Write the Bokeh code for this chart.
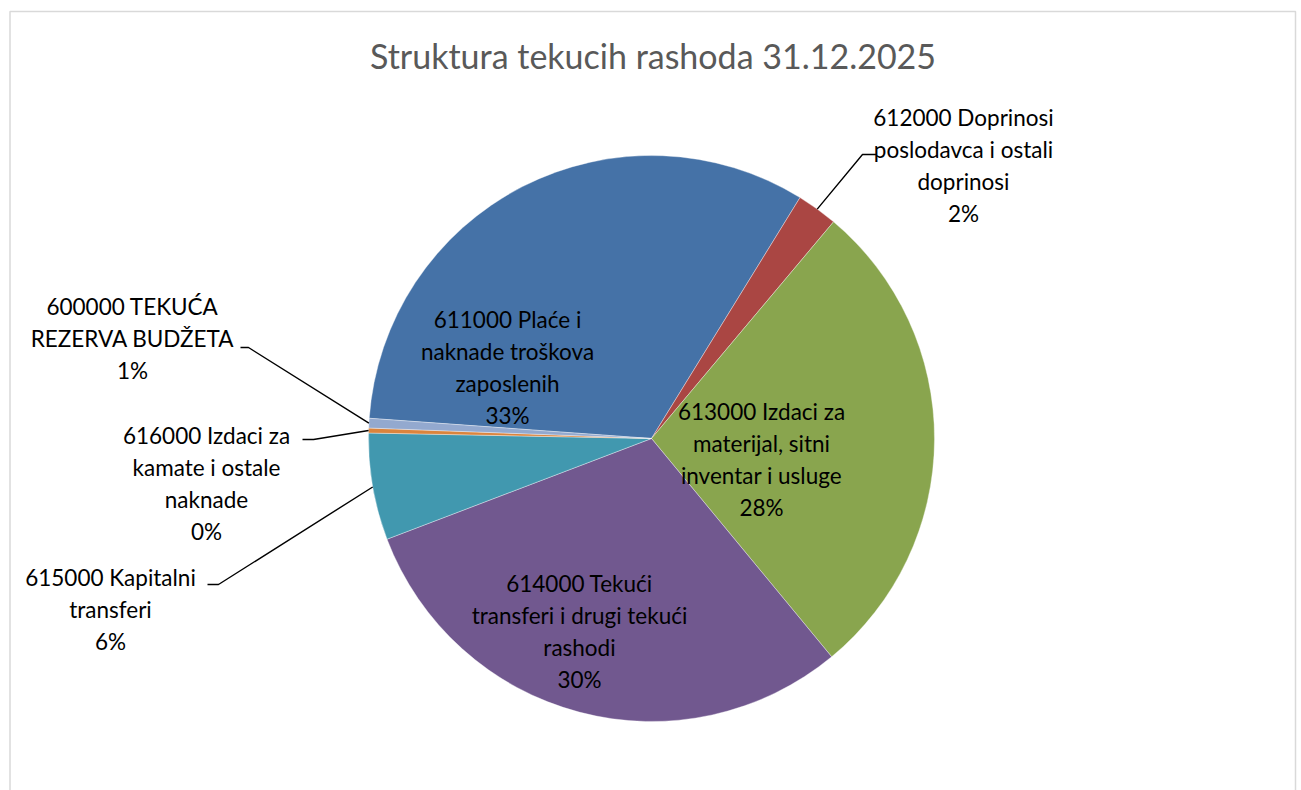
import math
from bokeh.plotting import figure
from bokeh.models import Range1d
from bokeh.core.properties import value
from bokeh.embed import file_html
from bokeh.resources import INLINE

# ---------------- data ----------------
title_text = "Struktura tekucih rashoda 31.12.2025"
categories = [
    "611000 Plaće i naknade troškova zaposlenih",
    "612000 Doprinosi poslodavca i ostali doprinosi",
    "613000 Izdaci za materijal, sitni inventar i usluge",
    "614000 Tekući transferi i drugi tekući rashodi",
    "615000 Kapitalni transferi",
    "616000 Izdaci za kamate i ostale naknade",
    "600000 TEKUĆA REZERVA BUDŽETA",
]
label_lines = [
    "611000 Plaće i\nnaknade troškova\nzaposlenih",
    "612000 Doprinosi\nposlodavca i ostali\ndoprinosi",
    "613000 Izdaci za\nmaterijal, sitni\ninventar i usluge",
    "614000 Tekući\ntransferi i drugi tekući\nrashodi",
    "615000 Kapitalni\ntransferi",
    "616000 Izdaci za\nkamate i ostale\nnaknade",
    "600000 TEKUĆA\nREZERVA BUDŽETA",
]
shares = [32.66, 2.33, 27.9, 30.2, 6.1, 0.28, 0.55]
colors = ["#4572A7", "#AA4643", "#89A54E", "#71588F", "#4198AF", "#DB843D", "#93A9CF"]

# ---------------- layout ----------------
W, H = 1300, 790
OX, OY = 0, 0


def sx(x):  # screen x -> data x
    return x - OX


def sy(y):  # screen y -> data y
    return (OY + H) - y


CX, CY, R = 651, 438, 283          # pie centre / radius (screen px)
FIRST_ANGLE = 274.1                # first slice angle, clockwise from 12 o'clock

# label block centres (screen px)
label_pos = [(507, 367), (963, 165), (761, 459), (579, 631), (110, 609), (206, 483), (132, 338)]
# leader lines for outside labels: index -> (elbow, end)
leaders = {
    1: ((862, 154), (876, 154)),
    4: ((218, 584), (207, 584)),
    5: ((313, 439), (302, 439)),
    6: ((248, 347), (240, 347)),
}

FONT = "Lato"

p = figure(width=W, height=H, output_backend="svg", toolbar_location=None,
           x_range=Range1d(0, W), y_range=Range1d(0, H),
           min_border=0, x_axis_type=None, y_axis_type=None)
p.grid.visible = False
p.outline_line_color = None
p.background_fill_color = "white"
p.border_fill_color = "white"

# chart-area border
p.quad(left=[sx(9.5)], right=[sx(1295)], top=[sy(11)], bottom=[-20],
       fill_color=None, line_color="#D9D9D9", line_width=1.5)

total = sum(shares)
theta = FIRST_ANGLE
starts, ends, mids = [], [], []
for s in shares:
    span = 360.0 * s / total
    th_s, th_e = theta, theta + span
    # convert clockwise-from-top to math angles (anticlockwise from +x)
    starts.append(math.radians(90 - th_e))
    ends.append(math.radians(90 - th_s))
    mids.append((th_s + th_e) / 2)
    theta = th_e

p.wedge(x=[sx(CX)] * len(shares), y=[sy(CY)] * len(shares), radius=R,
        start_angle=starts, end_angle=ends, direction="anticlock",
        fill_color=colors, line_color="white", line_width=0.6, line_alpha=0.6)

# leader lines
for i, (elbow, end) in leaders.items():
    m = math.radians(mids[i])
    ex = CX + R * math.sin(m)
    ey = CY - R * math.cos(m)
    p.line(x=[sx(ex), sx(elbow[0]), sx(end[0])],
           y=[sy(ey), sy(elbow[1]), sy(end[1])],
           line_color="black", line_width=1.4)

# data labels
texts = [f"{lbl}\n{round(100 * s / total)}%" for lbl, s in zip(label_lines, shares)]
p.text(x=[sx(x) for x, _ in label_pos], y=[sy(y) for _, y in label_pos], text=texts,
       text_font=value(FONT), text_font_size="22.5px", text_align="center",
       text_baseline="middle", text_line_height=1.185, text_color="black")

# title
p.text(x=[sx(652.5)], y=[sy(55)], text=[title_text], text_font=value(FONT),
       text_font_size="34px", text_align="center", text_baseline="middle",
       text_color="#595959")

open("out.html", "w").write(file_html(p, INLINE))
